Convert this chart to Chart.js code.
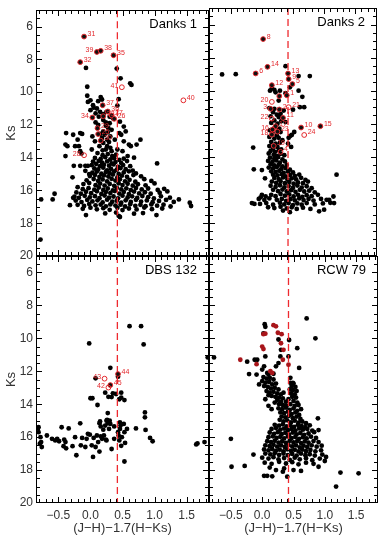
<!DOCTYPE html>
<html>
<head>
<meta charset="utf-8">
<script src="https://cdn.jsdelivr.net/npm/chart.js@4.4.1/dist/chart.umd.min.js"></script>
<style>
  html, body { margin: 0; padding: 0; background: #fff; }
  #wrap { position: relative; width: 382px; height: 535px; }
  #wrap canvas { position: absolute; left: 0; top: 0; }
</style>
</head>
<body>
<div id="wrap">
  <canvas id="danks1" width="382" height="535"></canvas>
  <canvas id="danks2" width="382" height="535"></canvas>
  <canvas id="dbs132" width="382" height="535"></canvas>
  <canvas id="rcw79" width="382" height="535"></canvas>
</div>
<script>
// cluster names, colour cut and axis values
const panelNames = ['Danks 1', 'Danks 2', 'DBS 132', 'RCW 79'];
const xTicks = [-0.5, 0, 0.5, 1, 1.5];
const yTicks = [6, 8, 10, 12, 14, 16, 18, 20];
const cutColour = 0.42;

// numbered stars: [colour, Ks, id]
const danks1Stars = [
  [-0.10, 6.61, '31'], [0.10, 7.55, '39'], [0.16, 7.48, '38'], [0.36, 7.75, '35'],
  [-0.16, 8.17, '32'], [0.49, 9.70, '41'], [1.45, 10.50, '40'], [0.19, 10.80, '37'],
  [0.27, 11.18, '36'], [0.03, 11.55, '34'], [0.20, 11.47, '33'], [0.33, 11.42, '27'],
  [0.37, 11.63, '26'], [0.11, 12.20, '29'], [0.12, 12.56, '25'], [0.16, 12.96, '30'],
  [-0.10, 13.85, '28']
];
const danks2Stars = [
  [0.02, 6.88, '8'], [0.09, 8.56, '14'], [-0.10, 8.96, '6'], [0.42, 8.96, '13'],
  [0.43, 9.30, '9'], [0.49, 9.60, '5'], [0.16, 9.67, '12'], [0.28, 10.33, '7'],
  [0.40, 10.28, '1'], [0.16, 10.68, '20'], [0.43, 11.00, '21'], [0.28, 11.14, '2'],
  [0.14, 11.10, '3'], [0.16, 11.69, '22'], [0.34, 11.65, '11'], [0.22, 12.15, '17'],
  [0.17, 12.35, '16'], [0.16, 12.66, '18'], [0.25, 12.48, '23'], [0.63, 12.23, '10'],
  [0.94, 12.15, '15'], [0.68, 12.68, '24'], [0.19, 13.34, '19'], [0.30, 13.70, '4']
];
const dbs132Stars = [
  [0.22, 12.45, '43'], [0.43, 12.17, '44'], [0.31, 12.84, '45'], [0.28, 12.99, '42']
];
const openStars = ['40', '41', '28', '20', '21', '22', '24', '4', '43', '42'];
const leftLabels = ['39', '41', '34', '28', '20', '3', '22', '16', '18', '43', '42'];

// RCW 79 candidates (red dots, no numbers)
const rcw79Stars = [
  [0.02, 9.75], [0.05, 9.72], [0.18, 9.20], [0.22, 9.27], [0.25, 9.66], [0.31, 9.75],
  [0.30, 10.30], [0.34, 10.70], [0.00, 10.50], [0.02, 10.65], [0.33, 11.30], [0.42, 11.60],
  [-0.35, 11.30], [-0.09, 11.57], [0.13, 12.00], [0.16, 12.10]
];

// field stars: [colour, Ks]
const danks1Field = [
  [0.41, 8.56], [-0.07, 8.52], [0.47, 9.16], [0.62, 9.46], [0.64, 9.56], [-0.05, 9.67],
  [0.44, 10.43], [0.42, 10.82], [-0.05, 10.22], [0.00, 10.50], [0.04, 10.80], [-0.04, 10.60],
  [0.16, 10.30], [0.18, 10.45], [0.12, 10.55], [0.05, 10.95], [0.10, 11.00], [0.15, 11.20],
  [0.00, 11.10], [0.08, 11.30], [0.13, 11.50], [0.20, 11.35], [0.25, 11.20], [0.20, 11.70],
  [0.24, 11.85], [0.30, 11.90], [0.28, 12.20], [0.20, 12.40], [0.15, 12.55], [0.22, 12.60],
  [0.26, 12.90], [0.20, 13.10], [0.14, 13.30], [0.26, 13.30], [0.31, 12.70], [0.30, 11.50],
  [0.35, 11.60], [0.24, 12.05], [0.33, 12.30], [0.12, 12.00], [0.29, 13.05], [0.24, 13.50],
  [0.31, 13.40], [0.18, 12.80], [0.27, 12.45], [0.33, 13.60], [0.19, 13.55], [0.08, 11.85],
  [-0.38, 12.50], [-0.39, 13.20], [-0.36, 13.30], [-0.27, 12.60], [-0.24, 13.30], [-0.16, 12.50],
  [-0.13, 12.55], [-0.20, 12.90], [-0.18, 13.30], [-0.16, 13.60], [-0.14, 13.75], [-0.39, 13.90],
  [-0.16, 14.50], [-0.08, 14.50], [-0.04, 14.50], [-0.08, 14.80], [-0.02, 15.00], [0.03, 12.70],
  [0.02, 13.50], [0.07, 13.00], [0.45, 12.50], [0.48, 12.60], [0.55, 12.40], [0.52, 13.00],
  [0.60, 13.20], [0.63, 13.30], [0.72, 13.20], [0.78, 12.90], [0.42, 13.50], [0.50, 13.60],
  [0.58, 13.90], [0.68, 14.00], [0.38, 12.90], [0.46, 11.80], [0.52, 12.10], [1.04, 14.35],
  [0.11, 13.72], [0.19, 13.85], [0.27, 13.78], [0.34, 13.90], [0.40, 13.81], [0.07, 14.02],
  [0.16, 14.08], [0.23, 13.97], [0.31, 14.11], [0.37, 14.03], [0.45, 14.14], [0.52, 14.06],
  [0.04, 14.24], [0.13, 14.19], [0.18, 14.31], [0.26, 14.22], [0.33, 14.35], [0.39, 14.27],
  [0.48, 14.33], [0.57, 14.21], [0.02, 14.46], [0.09, 14.38], [0.15, 14.52], [0.21, 14.43],
  [0.29, 14.49], [0.36, 14.41], [0.43, 14.56], [0.51, 14.45], [0.62, 14.52], [0.06, 14.66],
  [0.12, 14.72], [0.20, 14.61], [0.26, 14.77], [0.32, 14.68], [0.41, 14.73], [0.47, 14.63],
  [0.55, 14.70], [0.66, 14.79], [0.03, 14.92], [0.10, 14.85], [0.17, 14.98], [0.24, 14.88],
  [0.30, 14.95], [0.37, 14.84], [0.44, 14.99], [0.52, 14.90], [0.60, 14.83], [0.71, 14.96],
  [-0.01, 15.12], [0.07, 15.05], [0.14, 15.18], [0.21, 15.08], [0.28, 15.15], [0.35, 15.03],
  [0.42, 15.21], [0.49, 15.10], [0.57, 15.17], [0.67, 15.06], [0.79, 15.14], [-0.06, 15.38],
  [0.05, 15.30], [0.12, 15.42], [0.19, 15.33], [0.26, 15.45], [0.33, 15.29], [0.39, 15.40],
  [0.46, 15.32], [0.54, 15.44], [0.61, 15.35], [0.70, 15.47], [0.84, 15.31], [0.95, 15.42],
  [-0.11, 15.61], [-0.02, 15.55], [0.08, 15.68], [0.15, 15.58], [0.22, 15.70], [0.30, 15.60],
  [0.37, 15.72], [0.44, 15.56], [0.50, 15.67], [0.58, 15.59], [0.66, 15.71], [0.74, 15.62],
  [0.86, 15.69], [1.00, 15.57], [-0.20, 15.80], [-0.12, 15.92], [-0.03, 15.86], [0.06, 15.95],
  [0.13, 15.82], [0.20, 15.97], [0.27, 15.88], [0.35, 15.99], [0.41, 15.84], [0.48, 15.93],
  [0.56, 15.87], [0.63, 15.98], [0.71, 15.85], [0.80, 15.94], [0.90, 15.88], [1.05, 15.97],
  [1.15, 15.90], [-0.22, 16.12], [-0.15, 16.20], [-0.07, 16.08], [0.01, 16.17], [0.10, 16.05],
  [0.17, 16.21], [0.24, 16.10], [0.31, 16.16], [0.38, 16.04], [0.45, 16.19], [0.52, 16.09],
  [0.60, 16.22], [0.68, 16.07], [0.76, 16.18], [0.85, 16.11], [0.94, 16.20], [1.08, 16.14],
  [1.20, 16.06], [-0.25, 16.38], [-0.18, 16.45], [-0.09, 16.33], [-0.01, 16.42], [0.07, 16.35],
  [0.14, 16.47], [0.22, 16.31], [0.29, 16.44], [0.36, 16.37], [0.43, 16.48], [0.50, 16.32],
  [0.58, 16.43], [0.65, 16.36], [0.73, 16.46], [0.81, 16.34], [0.90, 16.41], [0.99, 16.49],
  [1.10, 16.36], [1.24, 16.44], [-0.23, 16.62], [-0.14, 16.71], [-0.05, 16.58], [0.03, 16.67],
  [0.11, 16.60], [0.19, 16.73], [0.26, 16.56], [0.34, 16.69], [0.41, 16.63], [0.48, 16.75],
  [0.55, 16.60], [0.63, 16.70], [0.71, 16.57], [0.79, 16.68], [0.88, 16.61], [0.97, 16.72],
  [1.07, 16.64], [1.18, 16.58], [1.30, 16.70], [-0.20, 16.88], [-0.10, 16.95], [-0.02, 16.83],
  [0.08, 16.91], [0.16, 16.86], [0.24, 16.97], [0.31, 16.85], [0.39, 16.92], [0.47, 16.87],
  [0.54, 16.98], [0.62, 16.84], [0.70, 16.94], [0.78, 16.88], [0.86, 16.96], [0.95, 16.85],
  [1.04, 16.93], [1.14, 16.87], [1.25, 16.98], [-0.12, 17.12], [0.00, 17.05], [0.10, 17.15],
  [0.20, 17.08], [0.30, 17.18], [0.42, 17.06], [0.50, 17.20], [0.60, 17.10], [0.72, 17.16],
  [0.84, 17.04], [0.96, 17.14], [1.12, 17.10], [-0.07, 17.50], [0.23, 17.40], [0.40, 17.35],
  [0.46, 17.62], [0.44, 17.55], [0.68, 17.42], [0.82, 17.38], [1.03, 17.50],
  [-0.77, 16.55], [-0.59, 16.55], [-0.56, 16.20], [-0.32, 16.90], [-0.27, 16.45], [-0.28, 15.20],
  [-0.26, 14.50], [1.38, 16.55], [1.55, 16.75], [1.57, 16.95], [-0.78, 19.00]
];
const danks2Field = [
  [-0.64, 9.02], [-0.42, 9.00], [0.38, 8.52], [0.59, 9.12], [0.77, 9.12], [0.59, 10.00],
  [0.65, 10.37], [0.61, 11.00], [0.68, 11.00], [0.50, 11.15], [0.38, 11.90], [0.45, 12.75],
  [0.48, 12.68], [0.52, 12.50], [0.43, 12.85], [-0.14, 13.44], [-0.13, 14.76], [1.20, 15.08],
  [0.05, 15.30], [0.00, 14.80], [0.42, 13.20], [0.47, 13.40], [0.16, 9.85], [0.20, 9.95],
  [0.29, 10.00], [0.13, 10.00], [0.22, 10.10], [0.38, 10.15], [0.45, 9.80], [0.27, 10.60],
  [0.12, 11.05], [0.20, 11.10], [0.35, 11.20],
  [0.18, 11.30], [0.24, 11.45], [0.30, 11.40], [0.14, 11.55], [0.27, 11.60], [0.20, 11.80],
  [0.31, 11.85], [0.15, 11.95], [0.25, 12.00], [0.28, 12.30], [0.21, 12.20], [0.13, 12.40],
  [0.30, 12.50], [0.17, 12.55], [0.24, 12.70], [0.12, 12.80], [0.20, 12.90], [0.27, 12.85],
  [0.33, 13.00], [0.15, 13.10], [0.22, 13.20], [0.29, 13.15], [0.12, 13.35], [0.25, 13.40],
  [0.18, 13.50], [0.31, 13.55], [0.14, 13.65], [0.21, 13.70], [0.27, 13.62], [0.11, 13.80],
  [0.19, 13.88], [0.24, 13.95], [0.30, 13.82], [0.36, 13.90], [0.13, 14.05], [0.20, 14.10],
  [0.26, 14.02], [0.33, 14.15], [0.10, 14.25], [0.17, 14.30], [0.23, 14.22], [0.29, 14.35],
  [0.37, 14.28], [0.14, 14.45], [0.20, 14.52], [0.27, 14.48], [0.33, 14.58], [0.40, 14.50],
  [0.11, 14.65], [0.18, 14.70], [0.24, 14.62], [0.31, 14.75], [0.38, 14.68], [0.45, 14.78],
  [0.15, 14.88], [0.22, 14.92], [0.28, 14.85], [0.35, 14.97], [0.42, 14.90], [0.50, 14.95],
  [0.18, 15.08], [0.25, 15.12], [0.32, 15.05], [0.38, 15.18], [0.45, 15.10], [0.53, 15.15],
  [0.60, 15.08], [0.20, 15.28], [0.27, 15.35], [0.34, 15.25], [0.41, 15.38], [0.48, 15.30],
  [0.55, 15.36], [0.63, 15.27], [0.70, 15.40], [0.16, 15.50], [0.23, 15.58], [0.30, 15.48],
  [0.37, 15.60], [0.44, 15.52], [0.51, 15.63], [0.58, 15.55], [0.66, 15.60], [0.74, 15.50],
  [0.14, 15.75], [0.22, 15.82], [0.29, 15.72], [0.36, 15.85], [0.43, 15.77], [0.50, 15.88],
  [0.57, 15.74], [0.64, 15.86], [0.72, 15.78], [0.80, 15.90], [0.18, 16.00], [0.26, 16.08],
  [0.33, 15.98], [0.40, 16.10], [0.47, 16.02], [0.54, 16.12], [0.61, 16.00], [0.68, 16.10],
  [0.76, 16.05], [0.85, 16.15], [0.06, 16.40], [0.15, 16.30], [0.22, 16.38], [0.30, 16.25],
  [0.37, 16.35], [0.44, 16.28], [0.51, 16.40], [0.58, 16.30], [0.65, 16.42], [0.72, 16.32],
  [0.80, 16.38], [0.90, 16.30], [-0.05, 16.55], [0.04, 16.62], [0.12, 16.52], [0.24, 16.60],
  [0.32, 16.55], [0.39, 16.66], [0.46, 16.56], [0.53, 16.64], [0.60, 16.52], [0.67, 16.62],
  [0.75, 16.55], [0.83, 16.65], [0.95, 16.55], [1.04, 16.60], [-0.16, 16.80], [-0.03, 16.85],
  [0.07, 16.80], [0.18, 16.90], [0.29, 16.78], [0.36, 16.88], [0.43, 16.80], [0.50, 16.92],
  [0.57, 16.82], [0.64, 16.90], [0.72, 16.80], [0.85, 16.88], [0.98, 16.82], [1.10, 16.78],
  [0.10, 17.05], [0.20, 17.10], [0.30, 17.02], [0.40, 17.12], [0.48, 17.05], [0.56, 17.15],
  [0.66, 17.08], [0.78, 17.15], [0.92, 17.30], [0.45, 17.35], [0.34, 17.25],
  [-0.12, 16.85], [-0.02, 16.45], [1.00, 17.20], [1.08, 16.60], [1.15, 16.40], [1.16, 16.80],
  [0.00, 16.30]
];
const dbs132Field = [
  [0.61, 9.26], [0.79, 9.26], [-0.02, 10.31], [0.83, 10.37], [1.83, 11.16], [0.31, 11.79],
  [0.43, 12.33], [0.08, 12.43], [0.23, 13.30], [0.35, 13.34], [0.40, 13.38], [0.28, 13.55],
  [0.33, 13.57], [0.48, 13.30], [0.48, 13.60], [0.53, 13.75], [0.45, 13.70], [0.00, 13.64],
  [0.03, 13.64], [0.11, 14.05], [0.27, 14.54], [0.85, 14.50], [0.85, 14.80], [0.15, 15.05],
  [0.14, 15.15], [0.26, 14.95], [0.27, 15.15], [0.23, 15.30], [0.31, 15.20], [0.46, 15.10],
  [0.47, 15.30], [0.52, 15.20], [0.37, 15.35], [0.46, 15.50], [0.16, 15.35], [0.30, 15.00],
  [0.25, 15.00], [-0.81, 15.40], [-0.81, 15.70], [-0.78, 16.00], [-0.77, 16.30], [-0.79, 16.40],
  [-0.76, 16.60], [-0.68, 15.90], [-0.45, 15.40], [-0.34, 15.47], [-0.52, 16.10], [-0.49, 16.25],
  [-0.41, 16.15], [-0.39, 16.30], [-0.42, 16.55], [-0.38, 16.68], [-0.24, 16.00], [-0.16, 15.16],
  [-0.15, 16.50], [-0.22, 17.10], [-0.04, 15.80], [-0.01, 15.85], [-0.06, 16.10], [0.02, 16.50],
  [0.04, 17.20], [0.10, 15.90], [0.16, 15.95], [0.21, 15.90], [0.24, 16.15], [0.18, 16.10],
  [0.25, 16.20], [0.14, 16.88], [0.33, 16.72], [0.44, 15.90], [0.45, 16.20], [0.48, 16.53],
  [0.54, 16.35], [0.49, 16.00], [0.53, 15.70], [0.57, 15.50], [0.71, 15.47], [0.86, 15.56],
  [0.93, 16.05], [0.97, 16.25], [0.53, 17.48], [1.65, 16.44], [1.67, 16.38], [1.78, 16.30],
  [-0.55, 16.20], [-0.60, 16.10], [-0.13, 16.05], [-0.08, 16.60], [0.08, 16.60], [0.12, 16.30],
  [0.37, 16.10], [-0.28, 16.55], [0.05, 16.05], [0.20, 15.55], [0.29, 15.50], [0.43, 15.70]
];
const rcw79Field = [
  [0.04, 9.14], [0.05, 9.30], [0.02, 9.70], [0.26, 10.07], [0.30, 10.70], [0.43, 10.10],
  [0.56, 10.60], [0.71, 8.79], [0.85, 10.00], [-0.77, 11.16], [-0.24, 11.42], [-0.12, 11.30],
  [-0.08, 11.30], [-0.21, 12.17], [-0.09, 12.20], [0.00, 11.90], [0.03, 11.70], [0.05, 11.10],
  [0.08, 12.10], [0.10, 12.20], [0.18, 12.15], [0.22, 11.70], [0.26, 11.50], [0.29, 11.10],
  [0.42, 11.10], [0.59, 11.80], [0.49, 12.70], [0.45, 12.40],
  [0.02, 12.35], [0.07, 12.45], [0.12, 12.40], [0.18, 12.50], [0.00, 12.60], [0.05, 12.70],
  [0.11, 12.65], [0.16, 12.80], [0.22, 12.75], [0.03, 12.90], [0.09, 12.95], [0.14, 13.05],
  [0.20, 13.00], [0.26, 13.10], [0.07, 13.20], [0.12, 13.30], [0.18, 13.25], [0.24, 13.35],
  [0.30, 13.40], [0.15, 13.50], [0.21, 13.55], [0.27, 13.60], [0.33, 13.65], [0.10, 13.45],
  [0.45, 12.70], [0.50, 12.75], [0.47, 12.90], [0.53, 12.95], [0.44, 13.10], [0.49, 13.15],
  [0.55, 13.20], [0.46, 13.35], [0.52, 13.40], [0.48, 13.55], [0.54, 13.60], [0.42, 13.70],
  [0.50, 13.80], [0.56, 13.90], [0.38, 13.85], [0.34, 13.30], [0.24, 13.75], [0.30, 13.85],
  [0.27, 14.00], [0.33, 14.05], [0.39, 14.10], [0.45, 14.00], [0.52, 14.10], [0.58, 14.05],
  [0.26, 14.25], [0.32, 14.30], [0.38, 14.20], [0.44, 14.35], [0.50, 14.25], [0.56, 14.40],
  [0.62, 14.30], [0.29, 14.50], [0.35, 14.55], [0.41, 14.45], [0.47, 14.60], [0.53, 14.50],
  [0.59, 14.65], [0.31, 14.75], [0.37, 14.80], [0.43, 14.70], [0.49, 14.85], [0.55, 14.75],
  [0.61, 14.90], [0.28, 14.95], [0.34, 15.05], [0.40, 14.98], [0.46, 15.10], [0.52, 15.00],
  [0.58, 15.12], [0.64, 15.05], [0.70, 15.15], [0.20, 15.25], [0.27, 15.30], [0.33, 15.22],
  [0.39, 15.35], [0.45, 15.28], [0.51, 15.38], [0.57, 15.25], [0.63, 15.33], [0.69, 15.40],
  [0.76, 15.28], [0.15, 15.50], [0.22, 15.45], [0.29, 15.55], [0.35, 15.48], [0.41, 15.58],
  [0.47, 15.50], [0.53, 15.60], [0.59, 15.47], [0.65, 15.55], [0.72, 15.50], [0.80, 15.60],
  [0.12, 15.72], [0.19, 15.80], [0.25, 15.70], [0.31, 15.82], [0.37, 15.74], [0.43, 15.85],
  [0.49, 15.72], [0.55, 15.83], [0.61, 15.75], [0.67, 15.86], [0.74, 15.78], [0.83, 15.70],
  [0.10, 16.00], [0.17, 15.95], [0.23, 16.05], [0.29, 15.98], [0.35, 16.08], [0.41, 15.96],
  [0.47, 16.06], [0.53, 15.99], [0.59, 16.10], [0.65, 16.00], [0.71, 16.08], [0.78, 15.97],
  [0.86, 16.05], [0.08, 16.25], [0.14, 16.30], [0.20, 16.22], [0.26, 16.33], [0.32, 16.25],
  [0.38, 16.35], [0.44, 16.22], [0.50, 16.32], [0.56, 16.24], [0.62, 16.36], [0.68, 16.26],
  [0.74, 16.34], [0.82, 16.24], [0.90, 16.30], [0.05, 16.50], [0.12, 16.55], [0.18, 16.47],
  [0.24, 16.58], [0.30, 16.50], [0.36, 16.60], [0.42, 16.48], [0.48, 16.57], [0.54, 16.50],
  [0.60, 16.62], [0.66, 16.52], [0.72, 16.60], [0.79, 16.50], [0.87, 16.58], [0.95, 16.52],
  [0.03, 16.75], [0.10, 16.80], [0.16, 16.72], [0.22, 16.83], [0.28, 16.76], [0.34, 16.86],
  [0.40, 16.74], [0.46, 16.84], [0.52, 16.77], [0.58, 16.87], [0.64, 16.75], [0.70, 16.85],
  [0.77, 16.78], [0.85, 16.86], [0.94, 16.80], [0.05, 17.00], [0.13, 17.05], [0.20, 16.98],
  [0.27, 17.08], [0.34, 17.00], [0.41, 17.10], [0.48, 17.02], [0.55, 17.12], [0.62, 17.00],
  [0.69, 17.10], [0.76, 17.04], [0.84, 17.12], [0.96, 17.06], [0.00, 17.25], [0.10, 17.30],
  [0.18, 17.22], [0.26, 17.35], [0.35, 17.27], [0.44, 17.38], [0.52, 17.25], [0.60, 17.35],
  [0.70, 17.28], [0.80, 17.40], [0.92, 17.30], [1.00, 17.45], [0.04, 17.55], [0.15, 17.62],
  [0.27, 17.50], [0.38, 17.60], [0.48, 17.52], [0.58, 17.65], [0.70, 17.55], [0.82, 17.62],
  [0.90, 17.80], [0.03, 18.35], [0.08, 18.35], [0.16, 18.38], [0.33, 18.10], [0.40, 18.40],
  [0.50, 18.00], [0.62, 18.05], [0.22, 18.00], [0.12, 17.85], [0.35, 17.90],
  [-0.50, 16.10], [-0.49, 17.80], [-0.28, 17.75], [-0.14, 17.06], [1.25, 18.15], [1.54, 18.20],
  [1.18, 19.00], [1.02, 17.20], [0.90, 15.57], [0.89, 14.86], [0.15, 14.30], [0.10, 14.10],
  [0.20, 13.90], [0.05, 13.70], [-0.05, 12.80]
];

Chart.defaults.font.family = "'Liberation Sans', Arial, sans-serif";
Chart.defaults.color = '#333';

const red = '#e3262b';
const FONT = "'Liberation Sans', Arial, sans-serif";

function isHalf(v) {
  return Math.abs(v * 2 - Math.round(v * 2)) < 1e-6;
}

// box, inward ticks on all four sides, panel name, star numbers
const framePlugin = {
  id: 'framePlugin',
  afterDatasetsDraw(chart) {
    const stars = chart.options.plugins.framePlugin.stars;
    if (!stars) return;
    const ctx = chart.ctx;
    const meta = chart.getDatasetMeta(0);
    ctx.save();
    ctx.fillStyle = red;
    ctx.font = '7px ' + FONT;
    ctx.textBaseline = 'middle';
    meta.data.forEach((pt, i) => {
      const id = stars[i][2];
      if (leftLabels.includes(id)) {
        ctx.textAlign = 'right';
        ctx.fillText(id, pt.x - 3.5, pt.y - 1.5);
      } else {
        ctx.textAlign = 'left';
        ctx.fillText(id, pt.x + 3.5, pt.y - 2.5);
      }
    });
    ctx.restore();
  },
  afterDraw(chart) {
    const ctx = chart.ctx;
    const a = chart.chartArea;
    const xs = chart.scales.x, ys = chart.scales.y;
    const L = Math.round(a.left), R = Math.round(a.right) - 1;
    const T = Math.round(a.top), B = Math.round(a.bottom) - 1;
    ctx.save();
    ctx.setLineDash([]);
    ctx.fillStyle = '#000';
    // frame
    ctx.fillRect(L, T, R - L + 1, 1);
    ctx.fillRect(L, B, R - L + 1, 1);
    ctx.fillRect(L, T, 1, B - T + 1);
    ctx.fillRect(R, T, 1, B - T + 1);
    // x ticks every 0.1, major every 0.5
    for (let i = -8; i <= 18; i++) {
      const px = Math.round(xs.getPixelForValue(i / 10));
      const len = i % 5 === 0 ? 5 : 3;
      ctx.fillRect(px, B - len, 1, len);
      ctx.fillRect(px, T, 1, len + 1);
    }
    // y ticks every 0.5, major every 2
    for (let i = 11; i <= 39; i++) {
      const py = Math.round(ys.getPixelForValue(i / 2));
      const len = i % 4 === 0 ? 5 : 3;
      ctx.fillRect(L, py, len + 1, 1);
      ctx.fillRect(R - len, py, len + 1, 1);
    }
    ctx.font = '13px ' + FONT;
    ctx.textAlign = 'right';
    ctx.textBaseline = 'alphabetic';
    ctx.fillText(chart.options.plugins.framePlugin.name, a.right - 12, a.top + 18);
    ctx.restore();
  }
};

function makePanel(id, name, field, stars, pad, showX, showY, starStyle) {
  const starData = stars.map(s => ({ x: s[0], y: s[1] }));
  let starDs;
  if (starStyle === 'rcw') {
    starDs = {
      data: starData, pointRadius: 2.4, pointBorderWidth: 0,
      pointBackgroundColor: '#a8151a'
    };
  } else {
    starDs = {
      data: starData, pointRadius: 2.4, pointBorderWidth: 1,
      pointBackgroundColor: stars.map(s => openStars.includes(s[2]) ? 'rgba(255,255,255,0)' : '#111'),
      pointBorderColor: red
    };
  }
  new Chart(document.getElementById(id), {
    type: 'scatter',
    data: {
      datasets: [
        starDs,
        {
          data: [{ x: cutColour, y: 5 }, { x: cutColour, y: 20 }],
          showLine: true, borderColor: '#ee2a2f', borderWidth: 1.3, borderDash: [7, 4],
          pointRadius: 0
        },
        {
          data: field.map(p => ({ x: p[0], y: p[1] })),
          pointRadius: 2.4, pointBorderWidth: 0, pointBackgroundColor: '#000'
        }
      ]
    },
    options: {
      responsive: false,
      animation: false,
      events: [],
      layout: { padding: pad },
      plugins: {
        legend: { display: false },
        tooltip: { enabled: false },
        framePlugin: { name: name, stars: starStyle === 'rcw' ? null : stars }
      },
      scales: {
        x: {
          type: 'linear', min: -0.85, max: 1.85, display: showX,
          afterFit: s => { s.height = showX ? 32 : 0; },
          grid: { display: false, drawTicks: false },
          border: { display: false },
          ticks: {
            stepSize: 0.5, includeBounds: false, autoSkip: false, maxRotation: 0,
            padding: 5, color: '#333', font: { size: 12 },
            callback: v => isHalf(v) ? v.toFixed(1).replace('-', '\u2212') : ''
          },
          title: {
            display: true, text: '(J\u2212H)\u22121.7(H\u2212Ks)', color: '#333',
            font: { size: 13, lineHeight: 1 }, padding: { top: 0, bottom: 0 }
          }
        },
        y: {
          type: 'linear', reverse: true, min: 5, max: 20, display: showY,
          afterFit: s => { s.width = showY ? 36 : 0; },
          grid: { display: false, drawTicks: false },
          border: { display: false },
          ticks: {
            stepSize: 2, includeBounds: false, autoSkip: false,
            padding: 3, color: '#333', font: { size: 12 },
            callback: v => yTicks.includes(v) ? String(v) : ''
          },
          title: {
            display: true, text: 'Ks', color: '#333',
            font: { size: 13 }, padding: { top: 4, bottom: 0 }
          }
        }
      }
    },
    plugins: [framePlugin]
  });
}

makePanel('danks1', panelNames[0], danks1Field, danks1Stars,
  { left: 0, top: 8, right: 173, bottom: 279 }, false, true, 'num');
makePanel('danks2', panelNames[1], danks2Field, danks2Stars,
  { left: 209, top: 8, right: 1, bottom: 279 }, false, false, 'num');
makePanel('dbs132', panelNames[2], dbs132Field, dbs132Stars,
  { left: 0, top: 256, right: 173, bottom: 0 }, true, true, 'num');
makePanel('rcw79', panelNames[3], rcw79Field, rcw79Stars,
  { left: 209, top: 256, right: 1, bottom: 0 }, true, false, 'rcw');
</script>
</body>
</html>
